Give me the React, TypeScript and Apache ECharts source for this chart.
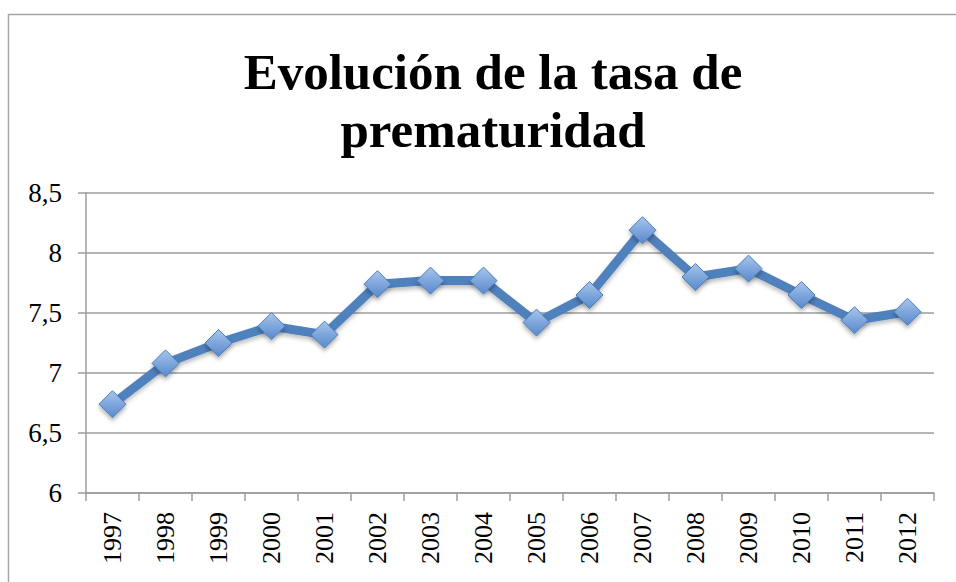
import React, { useEffect, useRef } from "react";
import * as echarts from "echarts";

const TITLE_LINES = ["Evolución de la tasa de", "prematuridad"];
const YEARS = ["1997", "1998", "1999", "2000", "2001", "2002", "2003", "2004", "2005", "2006", "2007", "2008", "2009", "2010", "2011", "2012"];
const RATES = [6.74, 7.08, 7.25, 7.39, 7.32, 7.74, 7.77, 7.77, 7.42, 7.65, 8.19, 7.8, 7.87, 7.65, 7.44, 7.51];
const Y_MIN = 6;
const Y_MAX = 8.5;
const Y_STEP = 0.5;

export default function App() {
  const ref = useRef<HTMLDivElement>(null);
  useEffect(() => {
    if (!ref.current) return;
    const chart = echarts.init(ref.current, null, { renderer: "svg" });
    const serif = "'Liberation Serif', 'Times New Roman', serif";
    const gray = "#9C9C9C";
    chart.setOption({
      animation: false,
      backgroundColor: "#ffffff",
      title: {
        text: TITLE_LINES.join("\n"),
        left: 488,
        top: 38,
        textAlign: "center",
        textStyle: {
          fontFamily: serif,
          fontWeight: "bold",
          fontSize: 51,
          lineHeight: 58,
          color: "#000000",
        },
      },
      graphic: [
        {
          type: "rect",
          shape: { x: 8.5, y: 14.5, width: 1200, height: 1200 },
          style: { fill: "none", stroke: "#A6A6A6", lineWidth: 1.5 },
          silent: true,
        },
      ],
      grid: { left: 86, right: 22, top: 193, bottom: 89, containLabel: false },
      xAxis: {
        type: "category",
        data: YEARS,
        boundaryGap: true,
        axisLine: { show: true, lineStyle: { color: gray, width: 1.5 } },
        axisTick: { show: true, length: 8, alignWithLabel: false, lineStyle: { color: gray, width: 1.5 } },
        axisLabel: {
          rotate: 90,
          margin: 19,
          fontFamily: serif,
          fontSize: 26,
          color: "#000000",
          interval: 0,
        },
        splitLine: { show: false },
      },
      yAxis: {
        type: "value",
        min: Y_MIN,
        max: Y_MAX,
        interval: Y_STEP,
        axisLine: { show: true, lineStyle: { color: gray, width: 1.5 } },
        axisTick: { show: true, length: 8, lineStyle: { color: gray, width: 1.5 } },
        axisLabel: {
          margin: 24,
          fontFamily: serif,
          fontSize: 27,
          color: "#000000",
          formatter: (v: number) => String(v).replace(".", ","),
        },
        splitLine: { show: true, lineStyle: { color: gray, width: 1.5 } },
      },
      series: [
        {
          type: "line",
          data: RATES,
          symbol: "diamond",
          symbolSize: 27,
          lineStyle: {
            color: "#4F81BD",
            width: 9,
            shadowColor: "rgba(0,0,0,0.25)",
            shadowBlur: 4,
            shadowOffsetY: 3,
          },
          itemStyle: {
            color: new echarts.graphic.LinearGradient(0, 0, 0, 1, [
              { offset: 0, color: "#A9C6EC" },
              { offset: 0.5, color: "#7EA6DC" },
              { offset: 1, color: "#5A8ACB" },
            ]),
            borderColor: "#4A7EBB",
            borderWidth: 1,
            shadowColor: "rgba(0,0,0,0.3)",
            shadowBlur: 4,
            shadowOffsetY: 3,
          },
        },
      ],
    });
    return () => chart.dispose();
  }, []);
  return (
    <div
      ref={ref}
      style={{ position: "absolute", left: 0, top: 0, width: 956, height: 582 }}
    />
  );
}
